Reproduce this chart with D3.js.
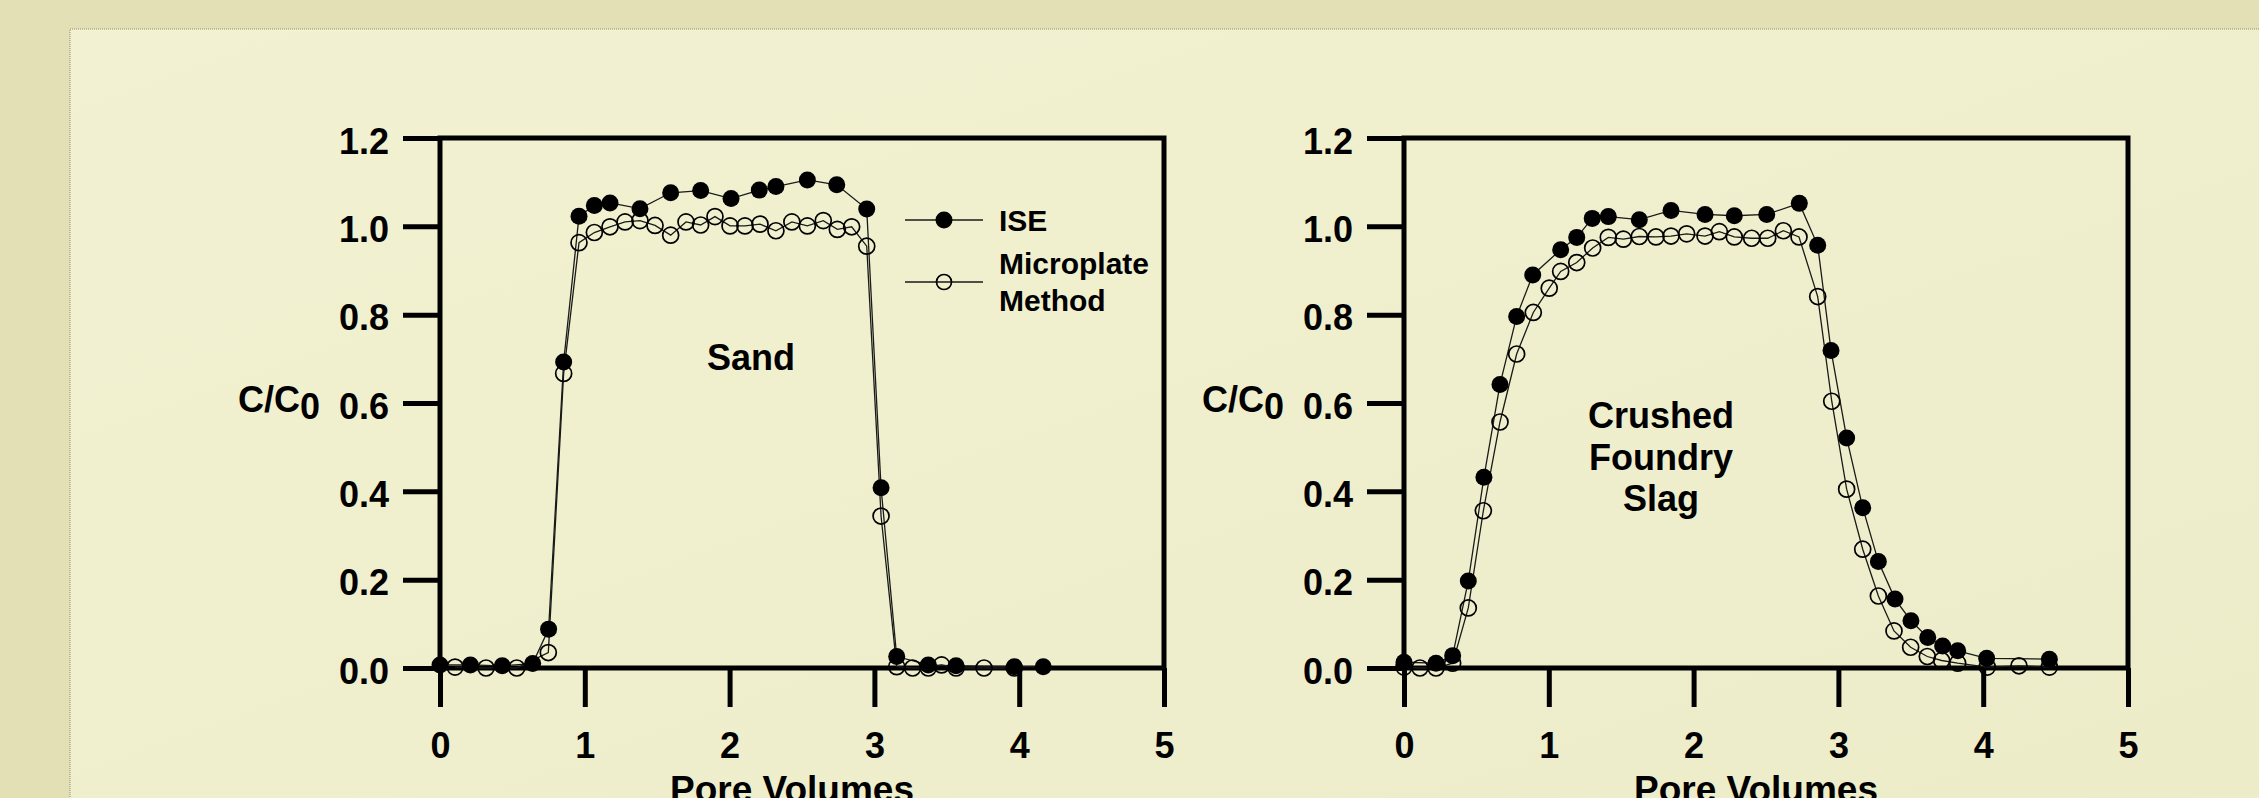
<!DOCTYPE html>
<html>
<head>
<meta charset="utf-8">
<script src="https://cdn.jsdelivr.net/npm/d3@7/dist/d3.min.js"></script>
<style>
	html, body { margin: 0; padding: 0; }
	body { width: 2259px; height: 798px; overflow: hidden; background: #e3e0b5; }
	svg { display: block; font-family: 'Liberation Sans', Arial, Helvetica, sans-serif; font-weight: bold; }
</style>
</head>
<body>
<div id="chart"></div>
<script>
// pore volumes and C/C0
const sandIsePv = [0, 0.21, 0.43, 0.64, 0.75, 0.854, 0.96, 1.066, 1.174, 1.381, 1.593, 1.8, 2.01, 2.205, 2.32, 2.537, 2.74, 2.947, 3.046, 3.154, 3.372, 3.564, 3.966, 4.166];
const sandIse = [0.007, 0.007, 0.005, 0.01, 0.088, 0.693, 1.023, 1.047, 1.053, 1.04, 1.076, 1.081, 1.063, 1.082, 1.09, 1.105, 1.094, 1.039, 0.408, 0.026, 0.007, 0.005, 0.003, 0.003];

const sandMicroPv = [0.104, 0.318, 0.53, 0.748, 0.854, 0.96, 1.066, 1.174, 1.278, 1.381, 1.485, 1.593, 1.699, 1.8, 1.899, 2.003, 2.106, 2.21, 2.32, 2.43, 2.537, 2.647, 2.744, 2.843, 2.947, 3.046, 3.154, 3.264, 3.372, 3.464, 3.564, 3.757, 3.966];
const sandMicro = [0.002, 0, 0, 0.035, 0.667, 0.963, 0.986, 0.999, 1.01, 1.013, 1.002, 0.98, 1.01, 1.003, 1.022, 1.001, 1.001, 1.005, 0.99, 1.01, 1.001, 1.013, 0.993, 0.999, 0.955, 0.344, 0.003, 0, 0, 0.007, 0, 0, 0];

const slagIsePv = [0, 0.221, 0.336, 0.444, 0.552, 0.663, 0.778, 0.889, 1.082, 1.193, 1.3, 1.411, 1.625, 1.844, 2.079, 2.281, 2.505, 2.73, 2.857, 2.949, 3.057, 3.168, 3.276, 3.391, 3.501, 3.617, 3.72, 3.824, 4.024, 4.457];
const slagIse = [0.013, 0.011, 0.028, 0.197, 0.432, 0.642, 0.796, 0.89, 0.947, 0.975, 1.018, 1.022, 1.015, 1.036, 1.027, 1.024, 1.027, 1.052, 0.957, 0.719, 0.521, 0.363, 0.241, 0.156, 0.107, 0.069, 0.05, 0.039, 0.022, 0.02];

const slagMicroPv = [0, 0.11, 0.221, 0.336, 0.444, 0.548, 0.663, 0.778, 0.893, 1.003, 1.082, 1.193, 1.303, 1.411, 1.515, 1.625, 1.74, 1.844, 1.952, 2.079, 2.178, 2.281, 2.401, 2.512, 2.62, 2.728, 2.857, 2.954, 3.057, 3.168, 3.276, 3.384, 3.499, 3.614, 3.713, 3.824, 4.028, 4.247, 4.457];
const slagMicro = [0.002, 0, 0, 0.011, 0.136, 0.356, 0.557, 0.711, 0.805, 0.86, 0.898, 0.918, 0.951, 0.975, 0.971, 0.977, 0.976, 0.978, 0.983, 0.978, 0.988, 0.976, 0.973, 0.973, 0.99, 0.976, 0.841, 0.604, 0.405, 0.269, 0.163, 0.084, 0.047, 0.026, 0.017, 0.011, 0.002, 0.005, 0.002];

const xTicks = [0, 1, 2, 3, 4, 5];
const yTicks = [0, 0.2, 0.4, 0.6, 0.8, 1.0, 1.2];
const seriesNames = ['ISE', 'Microplate', 'Method'];

const W = 2259;
const H = 798;
const PLOT_W = 724;
const TOP = 138;
const BOTTOM = 668;

const $svg = d3.select('#chart').append('svg').attr('width', W).attr('height', H);

// background + panel
const defs = $svg.append('defs');
const grad = defs.append('linearGradient').attr('id', 'panel-bg')
	.attr('x1', 0).attr('y1', 0).attr('x2', 1).attr('y2', 1);
grad.append('stop').attr('offset', 0).attr('stop-color', '#f2f2d2');
grad.append('stop').attr('offset', 1).attr('stop-color', '#ececc9');

$svg.append('rect').attr('width', W).attr('height', H).attr('fill', '#e3e0b5');
$svg.append('rect')
	.attr('x', 70).attr('y', 29)
	.attr('width', W).attr('height', H)
	.attr('fill', 'url(#panel-bg)')
	.attr('stroke', '#8f8d70').attr('stroke-width', 1).attr('stroke-dasharray', '1,1');

function zip(xs, ys) {
	return xs.map((v, i) => ({ x: v, y: ys[i] }));
}

function drawPanel(opts) {
	const x = d3.scaleLinear().domain([0, 5]).range([opts.left, opts.left + PLOT_W]);
	const y = d3.scaleLinear().domain([0, 1.2]).range([BOTTOM, TOP]);
	const $g = $svg.append('g');

	const line = d3.line().x(d => x(d.x)).y(d => y(d.y));
	const ise = zip(opts.isePv, opts.ise);
	const micro = zip(opts.microPv, opts.micro);

	// axes
	const $xAxis = $g.append('g')
		.attr('transform', `translate(0,${BOTTOM})`)
		.call(d3.axisBottom(x).tickValues(xTicks).tickSize(39).tickSizeOuter(0).tickPadding(25).tickFormat(d3.format('d')));
	const $yAxis = $g.append('g')
		.attr('transform', `translate(${opts.left},0)`)
		.call(d3.axisLeft(y).tickValues(yTicks).tickSize(37).tickSizeOuter(0).tickPadding(14).tickFormat(d3.format('.1f')));

	[$xAxis, $yAxis].forEach($a => {
		$a.attr('font-size', 36).attr('font-family', null);
		$a.select('.domain').remove();
		$a.selectAll('line').attr('stroke', '#000').attr('stroke-width', 5);
		$a.selectAll('text').attr('fill', '#000');
	});
	$yAxis.selectAll('text').attr('dy', '0.42em');

	// frame
	$g.append('rect')
		.attr('x', x(0)).attr('y', y(1.2))
		.attr('width', x(5) - x(0)).attr('height', y(0) - y(1.2))
		.attr('fill', 'none').attr('stroke', '#000').attr('stroke-width', 5);

	// series
	$g.append('path').datum(micro).attr('d', line)
		.attr('fill', 'none').attr('stroke', '#1a1a1a').attr('stroke-width', 1.3);
	$g.append('path').datum(ise).attr('d', line)
		.attr('fill', 'none').attr('stroke', '#1a1a1a').attr('stroke-width', 1.3);

	$g.append('g').selectAll('circle').data(micro).join('circle')
		.attr('cx', d => x(d.x)).attr('cy', d => y(d.y)).attr('r', 8)
		.attr('fill', 'none').attr('stroke', '#000').attr('stroke-width', 1.7);
	$g.append('g').selectAll('circle').data(ise).join('circle')
		.attr('cx', d => x(d.x)).attr('cy', d => y(d.y)).attr('r', 8.5)
		.attr('fill', '#000');

	// y label
	const $yl = $g.append('text').attr('x', opts.left - 202).attr('y', 412).attr('font-size', 36);
	$yl.append('tspan').text('C/C');
	$yl.append('tspan').attr('dy', 7).text('0');

	// x label
	$g.append('text')
		.attr('x', x(2.5) - 10).attr('y', 802)
		.attr('text-anchor', 'middle').attr('font-size', 37)
		.text('Pore Volumes');

	// material label
	$g.append('g').selectAll('text').data(opts.label).join('text')
		.attr('x', opts.labelX).attr('y', (d, i) => opts.labelY + i * 41.5)
		.attr('text-anchor', 'middle').attr('font-size', 36)
		.text(d => d);

	if (opts.legend) {
		const $lg = $g.append('g');
		[220, 282].forEach((ly, i) => {
			$lg.append('line').attr('x1', 905).attr('x2', 983).attr('y1', ly).attr('y2', ly)
				.attr('stroke', '#1a1a1a').attr('stroke-width', 1.3);
			$lg.append('circle').attr('cx', 944).attr('cy', ly).attr('r', i ? 7.5 : 8.5)
				.attr('fill', i ? 'none' : '#000').attr('stroke', '#000').attr('stroke-width', i ? 1.7 : 0);
		});
		$lg.selectAll('text').data(seriesNames).join('text')
			.attr('x', 999).attr('y', (d, i) => [231, 274, 311][i])
			.attr('font-size', 30)
			.text(d => d);
	}
}

drawPanel({
	left: 440,
	isePv: sandIsePv, ise: sandIse,
	microPv: sandMicroPv, micro: sandMicro,
	label: ['Sand'], labelX: 751, labelY: 370,
	legend: true
});

drawPanel({
	left: 1404,
	isePv: slagIsePv, ise: slagIse,
	microPv: slagMicroPv, micro: slagMicro,
	label: ['Crushed', 'Foundry', 'Slag'], labelX: 1661, labelY: 428,
	legend: false
});
</script>
</body>
</html>
